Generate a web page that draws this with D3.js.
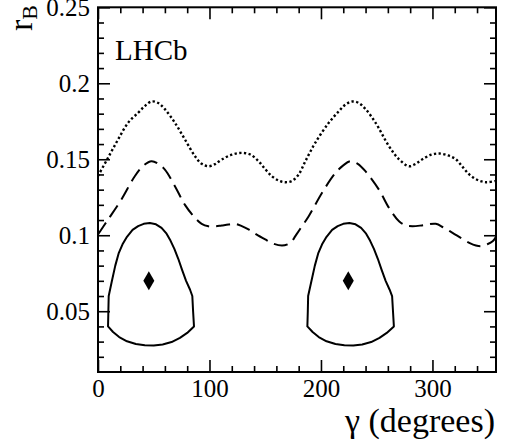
<!DOCTYPE html>
<html>
<head>
<meta charset="utf-8">
<script src="https://cdn.jsdelivr.net/npm/d3@7"></script>
<style>
  body { margin: 0; background: #fff; }
  svg { display: block; }
  svg text { font-family: "Liberation Serif", serif; fill: #000; }
</style>
</head>
<body>
<div id="chart"></div>
<script>
// gamma (degrees) vs r_B
var dotted = [
    [0, 0.139], [9, 0.151], [18, 0.163], [27, 0.174], [36, 0.1806], [42, 0.185], [48, 0.188],
    [54, 0.187], [60, 0.183], [69, 0.174], [78, 0.163], [87, 0.152], [93, 0.147], [99, 0.1454],
    [105, 0.1468], [111, 0.1498], [120, 0.153], [129, 0.1542], [137, 0.153], [144, 0.1487],
    [150, 0.1435], [156, 0.1388], [162, 0.136], [168, 0.1349], [174, 0.1358], [180, 0.140],
    [186, 0.1487], [195, 0.161], [207, 0.174], [216, 0.1816], [222, 0.186], [228, 0.188],
    [234, 0.187], [240, 0.183], [249, 0.174], [261, 0.1586], [270, 0.150], [279, 0.1454],
    [285, 0.147], [291, 0.150], [299, 0.153], [306, 0.1538], [314, 0.1525], [321, 0.150],
    [327, 0.145], [333, 0.140], [340, 0.1365], [348, 0.1349], [357, 0.1358]
]

var dashed = [
    [0, 0.1005], [9, 0.1103], [21, 0.1235], [33, 0.1388], [41, 0.146], [48, 0.1487], [54, 0.147],
    [60, 0.1432], [69, 0.1323], [78, 0.120], [87, 0.1115], [93, 0.1075], [99, 0.1059],
    [105, 0.1058], [111, 0.1064], [117, 0.107], [123, 0.1075], [129, 0.106], [135, 0.1038],
    [142, 0.1005], [150, 0.0972], [157, 0.0945], [165, 0.0932], [170, 0.094], [174, 0.096],
    [177, 0.0994], [181, 0.1038], [189, 0.1125], [201, 0.128], [213, 0.141], [220, 0.146],
    [226.5, 0.1487], [233, 0.147], [240, 0.142], [252, 0.130], [261, 0.118], [270, 0.1092],
    [276, 0.1065], [282, 0.1059], [292, 0.1066], [303, 0.1075], [310, 0.105], [318, 0.1016],
    [326, 0.098], [333, 0.095], [339, 0.0932], [344, 0.0928], [349, 0.094], [354, 0.096], [357, 0.099]
]

var contourLeft = [
    [9.0, 0.040], [9.3, 0.050], [9.6, 0.060], [12.5, 0.070], [15.5, 0.080], [18.5, 0.088],
    [22, 0.094], [26, 0.099], [31, 0.1035], [36, 0.106], [41, 0.1075], [46.5, 0.108],
    [52, 0.1072], [57, 0.1048], [61.5, 0.101], [65, 0.0965], [68.5, 0.091], [72, 0.0845],
    [75.5, 0.077], [79, 0.070], [82.5, 0.0643], [84.6, 0.060], [85.3, 0.050], [86.1, 0.040],
    [80, 0.0357], [73.5, 0.0325], [66, 0.0297], [58, 0.0281], [50, 0.0275], [42, 0.0276],
    [34, 0.0284], [26, 0.0302], [19, 0.033], [13.5, 0.0363]
]

var contourRight = [
    [187.8, 0.040], [188.2, 0.050], [188.5, 0.060], [191.5, 0.070], [194.5, 0.080], [197.5, 0.088],
    [201, 0.094], [205, 0.099], [210, 0.1035], [215, 0.106], [220, 0.1075], [225.5, 0.108],
    [231, 0.1072], [236, 0.1048], [240.5, 0.101], [244, 0.0965], [247.5, 0.091], [251, 0.0845],
    [254.5, 0.077], [258, 0.070], [261.5, 0.0643], [263.8, 0.060], [264.6, 0.050], [265.4, 0.040],
    [259, 0.0357], [252.5, 0.0325], [245, 0.0297], [237, 0.0281], [229, 0.0275], [221, 0.0276],
    [213, 0.0284], [205, 0.0302], [198, 0.033], [192.5, 0.0363]
]

var bestFit = [[45.6, 0.070], [224.5, 0.070]]

var xMajor = [0, 100, 200, 300]
var xMinor = [20, 40, 60, 80, 120, 140, 160, 180, 220, 240, 260, 280, 320, 340]
var yMajor = [0.05, 0.1, 0.15, 0.2, 0.25]
var yMinor = [0.02, 0.03, 0.04, 0.06, 0.07, 0.08, 0.09, 0.11, 0.12, 0.13, 0.14,
              0.16, 0.17, 0.18, 0.19, 0.21, 0.22, 0.23, 0.24]

var W = 508, H = 446
var frame = {left: 98, right: 496, top: 7.3, bottom: 372}
var serif = '"Liberation Serif", serif'

var svg = d3.select("#chart").append("svg")
    .attr("width", W)
    .attr("height", H)

var x = d3.scaleLinear()
    .domain([0, 357])
    .range([frame.left, frame.right])
var y = d3.scaleLinear()
    .domain([0.01, 0.25])
    .range([frame.bottom, frame.top])

svg.append("clipPath").attr("id", "clip")
    .append("rect")
    .attr("x", frame.left).attr("y", frame.top)
    .attr("width", frame.right - frame.left)
    .attr("height", frame.bottom - frame.top)

// ticks, all pointing into the frame
function ticks(axis, vals, size, tr, labels) {
    var g = svg.append("g")
        .attr("transform", tr)
        .call(axis.tickValues(vals).tickSizeInner(-size).tickSizeOuter(0)
            .tickPadding(labels ? 8 : 0)
            .tickFormat(labels ? (d => String(+d.toFixed(2))) : ""))
    g.select(".domain").remove()
    g.selectAll("line").attr("stroke", "#000").attr("stroke-width", 1.6)
    g.selectAll("text").style("font-size", "25px").style("font-family", serif).attr("fill", "#000")
    return g
}

var bx = ticks(d3.axisBottom(x), xMajor, 12, `translate(0,${frame.bottom})`, true)
bx.selectAll("text").attr("dy", null).attr("y", 25)
ticks(d3.axisBottom(x), xMinor, 6, `translate(0,${frame.bottom})`, false)
ticks(d3.axisTop(x), xMajor, 12, `translate(0,${frame.top})`, false)
ticks(d3.axisTop(x), xMinor, 6, `translate(0,${frame.top})`, false)

var ly = ticks(d3.axisLeft(y), yMajor, 12, `translate(${frame.left},0)`, true)
ly.selectAll("text").attr("dy", "0.33em")
ticks(d3.axisLeft(y), yMinor, 6, `translate(${frame.left},0)`, false)
ticks(d3.axisRight(y), yMajor, 12, `translate(${frame.right},0)`, false)
ticks(d3.axisRight(y), yMinor, 6, `translate(${frame.right},0)`, false)

var plot = svg.append("g").attr("clip-path", "url(#clip)")

var smooth = d3.line()
    .x(d => x(d[0]))
    .y(d => y(d[1]))
    .curve(d3.curveCatmullRom)

plot.append("path")
    .datum(dotted)
    .attr("d", smooth)
    .attr("fill", "none")
    .attr("stroke", "#000")
    .attr("stroke-width", 2.4)
    .attr("stroke-dasharray", "2.3,2.4")

plot.append("path")
    .datum(dashed)
    .attr("d", smooth)
    .attr("fill", "none")
    .attr("stroke", "#000")
    .attr("stroke-width", 2)
    .attr("stroke-dasharray", "14,7")

var contourLine = d3.line()
    .x(d => x(d[0]))
    .y(d => y(d[1]))
    .curve(d3.curveLinearClosed)

var contours = [contourLeft, contourRight]
contours.forEach(c => {
    plot.append("path")
        .attr("d", contourLine(c))
        .attr("fill", "none")
        .attr("stroke", "#000")
        .attr("stroke-width", 2)
        .attr("stroke-linejoin", "round")
})

bestFit.forEach(d => {
    plot.append("path")
        .attr("d", d3.symbol(d3.symbolDiamond, 105)())
        .attr("transform", `translate(${x(d[0])},${y(d[1])})`)
        .attr("fill", "#000")
})

// frame
svg.append("rect")
    .attr("x", frame.left).attr("y", frame.top)
    .attr("width", frame.right - frame.left)
    .attr("height", frame.bottom - frame.top)
    .attr("fill", "none")
    .attr("stroke", "#000")
    .attr("stroke-width", 2)

svg.append("text")
    .attr("x", 115)
    .attr("y", 60)
    .style("font-size", "29px")
    .style("font-family", serif)
    .text("LHCb")

svg.append("text")
    .attr("x", frame.right - 1)
    .attr("y", 432)
    .attr("text-anchor", "end")
    .style("font-size", "34px")
    .style("font-family", serif)
    .text("γ (degrees)")

var yt = svg.append("text")
    .attr("transform", "translate(32,5) rotate(-90)")
    .attr("text-anchor", "end")
    .style("font-size", "34px")
    .style("font-family", serif)
yt.append("tspan").text("r")
yt.append("tspan").attr("dy", 5).style("font-size", "22px").text("B")
</script>
</body>
</html>
